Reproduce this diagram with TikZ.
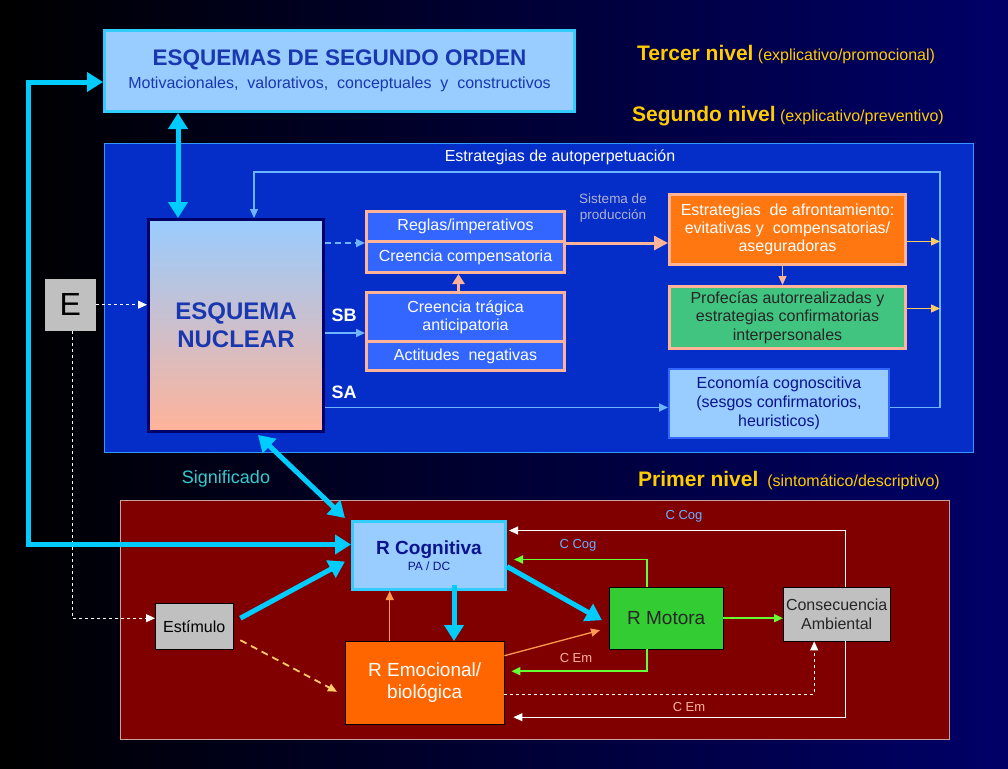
\documentclass[tikz,border=0pt]{standalone}
\usepackage{fontspec}
\setmainfont{Liberation Sans}
\usetikzlibrary{arrows.meta}

\definecolor{bgnavy}{RGB}{0,0,104}
\definecolor{skyfill}{RGB}{153,204,255}
\definecolor{cyanline}{RGB}{0,204,255}
\definecolor{cyanedge}{RGB}{51,204,255}
\definecolor{titleblue}{RGB}{25,55,175}
\definecolor{navytext}{RGB}{10,20,140}
\definecolor{levelgold}{RGB}{255,204,0}
\definecolor{midpanel}{RGB}{5,45,200}
\definecolor{midedge}{RGB}{51,153,255}
\definecolor{loopblue}{RGB}{110,180,255}
\definecolor{cellblue}{RGB}{51,102,255}
\definecolor{peach}{RGB}{255,179,153}
\definecolor{copeorange}{RGB}{255,119,17}
\definecolor{emorange}{RGB}{255,102,0}
\definecolor{prophgreen}{RGB}{64,196,128}
\definecolor{darkred}{RGB}{128,0,0}
\definecolor{rededge}{RGB}{204,160,160}
\definecolor{lightgray}{RGB}{192,192,192}
\definecolor{motorgreen}{RGB}{51,204,51}
\definecolor{limegreen}{RGB}{102,255,51}
\definecolor{thinorange}{RGB}{255,153,80}
\definecolor{sandorange}{RGB}{255,204,102}
\definecolor{meaningcyan}{RGB}{51,204,204}
\definecolor{prodgray}{RGB}{176,176,210}
\definecolor{cogblue}{RGB}{102,178,255}

\begin{document}
\begin{tikzpicture}[x=1pt, y=-1pt,
box/.style={draw, rectangle, align=center, inner sep=0pt, anchor=north west},
cell/.style={box, fill=cellblue, draw=peach, line width=3pt, text=white, font=\fontsize{16}{18}\selectfont, minimum width=198pt},
bigarrow/.style={cyanline, line width=5pt, -{Triangle[length=16pt,width=19pt]}},
thin/.style={-{Triangle[length=9pt,width=8pt]}},
loopline/.style={thin, loopblue, line width=1.3pt},
label/.style={inner sep=0pt, font=\fontsize{13}{15}\selectfont},
level/.style={anchor=west, inner sep=0pt, text=levelgold, font=\fontsize{16}{19}\selectfont}
]

% background
\fill[left color=black, right color=bgnavy] (0,0) rectangle (1008,768);
\useasboundingbox (0,0) rectangle (1008,768);

% panels
\node[box, fill=midpanel, draw=midedge, line width=1pt, minimum width=869pt, minimum height=309pt] (segundo) at (104,143) {};
\node[box, fill=darkred, draw=rededge, line width=1pt, minimum width=829pt, minimum height=239pt] (primero) at (120,500) {};

% level titles
\node[level] (tercerlbl) at (637,55)
{{\fontsize{21}{23}\selectfont\bfseries Tercer nivel} (explicativo/promocional)};
\node[level] (segundolbl) at (632,116)
{{\fontsize{21}{23}\selectfont\bfseries Segundo nivel} (explicativo/preventivo)};
\node[level] (primerlbl) at (638,481)
{{\fontsize{21}{23}\selectfont\bfseries Primer nivel} \ (sintomático/descriptivo)};

% third level
\node[box, fill=skyfill, draw=cyanedge, line width=3pt, minimum width=470pt, minimum height=81pt, text=titleblue] (orden) at (103,29)
{{\fontsize{22.5}{25}\selectfont\bfseries ESQUEMAS DE SEGUNDO ORDEN}\\[6pt]
{\fontsize{16}{18}\selectfont Motivacionales,\ \ valorativos,\ \ conceptuales\ \ y\ \ constructivos}};

% second level
\node[label, text=white, font=\fontsize{16}{18}\selectfont] (autoperp) at (560,157) {Estrategias de autoperpetuación};

\node[box, top color=skyfill, bottom color=peach, draw=bgnavy, line width=3pt, minimum width=175pt, minimum height=212pt, text=titleblue, font=\fontsize{24}{28}\selectfont\bfseries] (nuclear) at (147,218)
{ESQUEMA\\NUCLEAR};

\node[box, fill=lightgray, minimum width=52pt, minimum height=53pt, font=\fontsize{32}{34}\selectfont] (E) at (44,278) {E};

\node[cell, minimum height=30pt] (reglas) at (365,210) {Reglas/imperativos};
\node[cell, minimum height=31pt] (compens) at (365,240) {Creencia compensatoria};
\node[cell, minimum height=49pt] (tragica) at (365,291) {Creencia trágica\\anticipatoria};
\node[cell, minimum height=29pt] (actitudes) at (365,340) {Actitudes \ negativas};

\node[label, text=white, font=\fontsize{18}{20}\selectfont\bfseries] (sb) at (344,315) {SB};
\node[label, text=white, font=\fontsize{18}{20}\selectfont\bfseries] (sa) at (344,392) {SA};

\node[label, text=prodgray, align=center, font=\fontsize{13.5}{16}\selectfont] (produccion) at (613,208) {Sistema de\\producción};

\node[box, fill=copeorange, draw=peach, line width=3pt, minimum width=236pt, minimum height=70pt, text=white, font=\fontsize{16}{18}\selectfont] (afront) at (668,193)
{Estrategias \ de afrontamiento:\\evitativas y \ compensatorias/\\aseguradoras};
\node[box, fill=prophgreen, draw=peach, line width=3pt, minimum width=236pt, minimum height=62pt, text=black!85, font=\fontsize{16}{18.5}\selectfont] (profecias) at (668,285)
{Profecías autorrealizadas y\\estrategias confirmatorias\\interpersonales};
\node[box, fill=skyfill, draw=cellblue, line width=2pt, minimum width=220pt, minimum height=69pt, text=navytext, font=\fontsize{16}{19}\selectfont] (economia) at (668,368)
{Economía cognoscitiva\\(sesgos confirmatorios,\\heuristicos)};

\coordinate (loopR) at (940,172);
\coordinate (bigL) at (28,82);

% first level
\node[label, text=meaningcyan, font=\fontsize{18}{20}\selectfont] (significado) at (226,479) {Significado};

\node[box, fill=skyfill, draw=cyanedge, line width=3pt, minimum width=153pt, minimum height=68pt, text=navytext] (cognitiva) at (351,520)
{{\fontsize{19}{21}\selectfont\bfseries R Cognitiva}\\[2pt]{\fontsize{12}{14}\selectfont PA / DC}};
\node[box, fill=lightgray, minimum width=78pt, minimum height=46pt, font=\fontsize{16}{18}\selectfont] (estimulo) at (155,603) {Estímulo};
\node[box, fill=emorange, minimum width=159pt, minimum height=83pt, text=white, font=\fontsize{19}{22}\selectfont] (emocional) at (345,641) {R Emocional/\\biológica};
\node[box, fill=motorgreen, minimum width=114pt, minimum height=62pt, text=black!85, font=\fontsize{19}{21}\selectfont] (motora) at (609,587) {R Motora};
\node[box, fill=lightgray, minimum width=107pt, minimum height=54pt, text=black!85, font=\fontsize{16}{19}\selectfont] (consec) at (783,587) {Consecuencia\\Ambiental};

\node[label, text=cogblue] (ccog1) at (684,516) {C Cog};
\node[label, text=cogblue] (ccog2) at (578,545) {C Cog};
\node[label, text=peach] (cem1) at (576,658) {C Em};
\node[label, text=peach] (cem2) at (689,707) {C Em};

% connectors, upper part
\draw[bigarrow, {Triangle[length=16pt,width=19pt]}-{Triangle[length=16pt,width=19pt]}] ([xshift=31pt]nuclear.north west |- orden.south) -- ([xshift=31pt]nuclear.north west);
\draw[loopline] ([yshift=-4pt]economia.east) -| (loopR) -| ([xshift=107pt]nuclear.north west);
\draw[thin, sandorange, line width=1.3pt] ([yshift=-12pt]afront.east) -- ([yshift=-12pt]afront.east -| loopR);
\draw[thin, sandorange, line width=1.3pt] ([yshift=9pt]profecias.east) -- ([yshift=9pt]profecias.east -| loopR);
\draw[thin, white, dashed, line width=1pt] (E.east) -- (E.east -| nuclear.west);
\draw[thin, white, dashed, line width=1pt] ([xshift=2pt]E.south) |- ([yshift=8pt]estimulo.west);
\draw[thin, loopblue, dash pattern=on 6pt off 4pt, line width=1.8pt] (nuclear.east |- reglas.south) -- (reglas.south west);
\draw[thin, loopblue, line width=1.8pt] ([yshift=-16pt]nuclear.east |- tragica.west) -- ([yshift=-16pt]tragica.west);
\draw[thin, loopblue, line width=1.8pt] ([yshift=-4pt]nuclear.east |- economia.west) -- ([yshift=-4pt]economia.west);
\draw[peach, line width=3pt, -{Triangle[length=10pt,width=12pt]}] ([xshift=-7pt]tragica.north) -- ([xshift=-7pt]compens.south);
\draw[peach, line width=3pt, -{Triangle[length=14pt,width=14pt]}] (reglas.south east) -- (reglas.south east -| afront.west);
\draw[thin, peach, line width=1pt] ([xshift=-5pt]afront.south) -- ([xshift=-5pt]profecias.north);

% connectors, lower part
\draw[bigarrow, {Triangle[length=16pt,width=19pt]}-{Triangle[length=16pt,width=19pt]}] ([xshift=22pt,yshift=-2pt]nuclear.south) -- ([xshift=-6pt,yshift=2pt]cognitiva.north west);
\draw[bigarrow, {Triangle[length=16pt,width=19pt]}-{Triangle[length=16pt,width=19pt]}] ([yshift=11pt]cognitiva.west) -| (bigL) -- (bigL -| orden.west);
\draw[bigarrow] ([xshift=7pt,yshift=8pt]estimulo.east) -- ([xshift=-6pt,yshift=-6pt]cognitiva.west);
\draw[bigarrow] ([xshift=25pt,yshift=6pt]cognitiva.south) -- ([xshift=25pt]cognitiva.south |- emocional.north);
\draw[bigarrow] ([yshift=-11pt]cognitiva.east) -- ([xshift=-7pt,yshift=-2pt]motora.west);
\draw[thin, sandorange, dash pattern=on 7pt off 5pt, line width=1.8pt] ([xshift=7pt,yshift=-14pt]estimulo.east) -- ([xshift=-8pt,yshift=-9pt]emocional.west);
\draw[thin, thinorange, line width=1.3pt] ([xshift=-35pt]emocional.north) -- ([xshift=-35pt]emocional.north |- cognitiva.south);
\draw[thin, thinorange, line width=1.3pt] ([yshift=27pt]emocional.east) -- ([xshift=-9pt,yshift=-12pt]motora.west);
\draw[thin, limegreen, line width=1.8pt] (motora.east) -- (motora.east -| consec.west);
\draw[thin, limegreen, line width=1.8pt] ([xshift=-19pt]motora.north) |- ([xshift=7pt,yshift=-4pt]cognitiva.east);
\draw[thin, limegreen, line width=1.8pt] ([xshift=-19pt]motora.south) |- ([xshift=7pt,yshift=11.5pt]emocional.east);
\draw[thin, white, line width=1pt] ([xshift=8.5pt]consec.north) |- ([xshift=2pt,yshift=25pt]cognitiva.east);
\draw[thin, white, line width=1pt] ([xshift=8.5pt]consec.south) |- ([xshift=9pt,yshift=-34.5pt]emocional.east);
\draw[thin, white, dashed, line width=1pt] ([yshift=-11.5pt]emocional.east) -| ([xshift=-22.5pt]consec.south);

\end{tikzpicture}
\end{document}
